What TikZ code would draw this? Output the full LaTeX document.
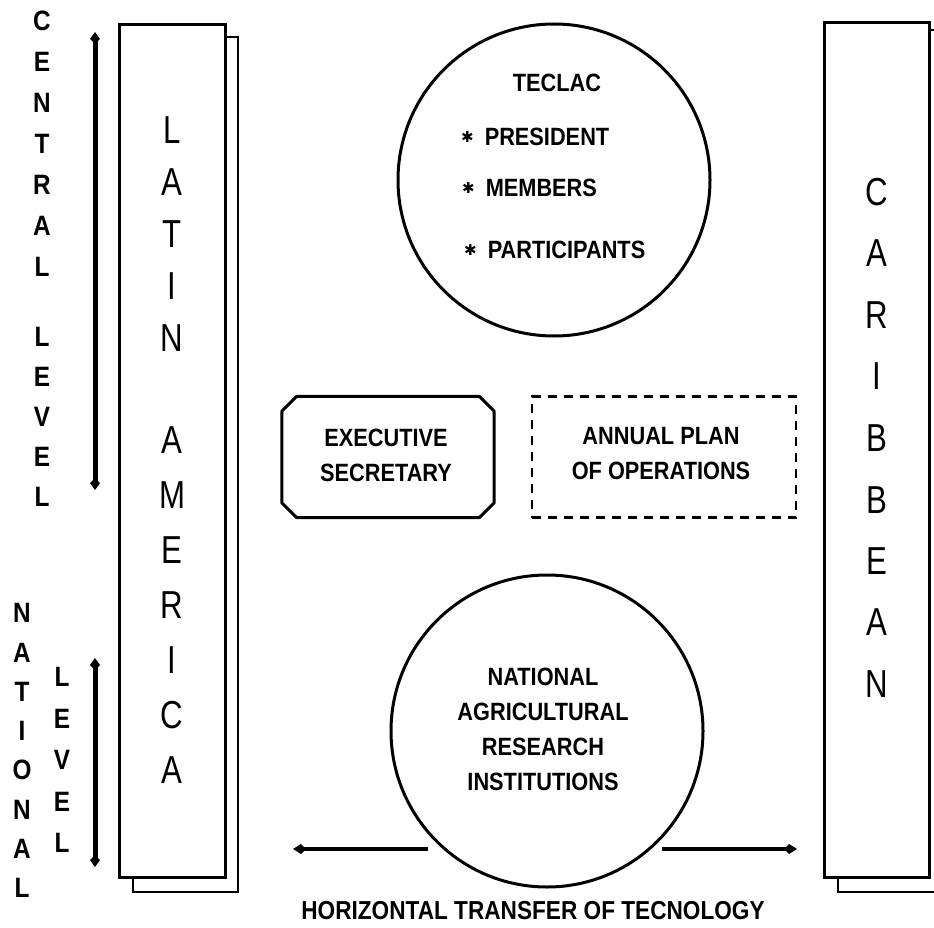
\documentclass[tikz,border=0pt]{standalone}
\usepackage{fontspec}
\setmainfont{Liberation Sans}
\newfontfamily\boxfont[FakeStretch=0.87]{Liberation Sans}
\newfontfamily\bigletterfont[FakeStretch=0.8]{Liberation Sans}
\newfontfamily\starfont{DejaVu Sans}
\usetikzlibrary{arrows.meta}

\tikzset{
  frontbox/.style={draw, line width=3pt, fill=white, inner sep=0pt},
  backbox/.style={draw, line width=2.5pt},
  vletter/.style={font=\boxfont\bfseries\fontsize{28}{30}\selectfont, inner sep=0pt},
  bigletter/.style={font=\bigletterfont\fontsize{39}{40}\selectfont, inner sep=0pt},
  boxtext/.style={font=\boxfont\bfseries\fontsize{25}{35}\selectfont, align=center, inner sep=0pt},
  bubble/.style={circle, draw, line width=3pt, minimum size=312pt, inner sep=0pt},
  chamfer/.style={line width=3pt, line join=round},
  levelarrow/.style={line width=5pt, {Kite[length=12pt,width=10pt,inset=5pt]}-{Kite[length=12pt,width=10pt,inset=5pt]}},
  transfer/.style={line width=4pt, -{Kite[length=13pt,width=10pt,inset=5pt]}}
}
\newcommand{\bul}{\raisebox{3pt}{\starfont\fontsize{15}{15}\selectfont ✱}\hspace{11pt}}

\begin{document}
\begin{tikzpicture}[x=1pt, y=-1pt]
\useasboundingbox (0,0) rectangle (934,928);

\draw[backbox] (133,37) rectangle (238,892);
\node[frontbox, minimum width=106pt, minimum height=852pt] (latin) at (172,451){};
\draw[backbox] (934,30) -| (838,892) -- (934,892);
\node[frontbox, minimum width=105pt, minimum height=854pt] (carib) at (876.5,450){};

\foreach \ch/\yy [count=\i] in {L/130, A/182, T/234, I/286, N/338, A/440, M/495, E/550, R/605, I/660, C/715, A/770}
  \node[bigletter] (latin\i) at (172,\yy){\ch};
\foreach \ch/\yy [count=\i] in {C/192, A/253, R/315, I/376, B/438, B/500, E/561, A/622, N/684}
  \node[bigletter] (carib\i) at (877,\yy){\ch};

\foreach \ch/\yy [count=\i] in {C/21, E/62, N/103, T/144, R/185, A/226, L/267, L/337, E/377, V/417, E/457, L/497}
  \node[vletter] (central\i) at (42,\yy){\ch};
\foreach \ch/\yy [count=\i] in {N/613, A/653, T/692, I/731, O/770, N/810, A/849, L/888}
  \node[vletter] (national\i) at (22,\yy){\ch};
\foreach \ch/\yy [count=\i] in {L/677, E/719, V/760, E/802, L/843}
  \node[vletter] (level\i) at (62,\yy){\ch};

\coordinate (ctop) at (95,32);
\coordinate (cbot) at (95,490);
\draw[levelarrow] (ctop) -- (cbot);
\coordinate (ntop) at (95,658);
\coordinate (nbot) at (95,867);
\draw[levelarrow] (ntop) -- (nbot);

\node[bubble] (teclac) at (554,180){};
\node[boxtext] (teclactitle) at (557,83){TECLAC};
\node[boxtext, anchor=west] (president) at (461,137){\bul PRESIDENT};
\node[boxtext, anchor=west] (members) at (462,188){\bul MEMBERS};
\node[boxtext, anchor=west] (participants) at (464,250){\bul PARTICIPANTS};

\node[minimum width=212pt, minimum height=121pt, inner sep=0pt] (execbox) at (388,457){};
\draw[chamfer] ([xshift=15pt]execbox.north west) -- ([xshift=-15pt]execbox.north east)
  -- ([yshift=-15pt]execbox.north east) -- ([yshift=15pt]execbox.south east)
  -- ([xshift=-15pt]execbox.south east) -- ([xshift=15pt]execbox.south west)
  -- ([yshift=15pt]execbox.south west) -- ([yshift=-15pt]execbox.north west) -- cycle;
\node[boxtext] (exec) at (386,455){EXECUTIVE\\SECRETARY};
\node[draw, dash pattern=on 9pt off 7pt, line width=2.5pt, minimum width=264pt, minimum height=121pt] (plan) at (664,457){};
\node[boxtext] (plantext) at (661,454){ANNUAL PLAN\\OF OPERATIONS};

\node[bubble] (nari) at (547,731){};
\node[boxtext] (naritext) at (543,729){NATIONAL\\AGRICULTURAL\\RESEARCH\\INSTITUTIONS};

\coordinate (leftstart) at (428,849);
\coordinate (leftend) at (293,849);
\coordinate (rightstart) at (662,849);
\coordinate (rightend) at (797,849);
\draw[transfer] (leftstart) -- (leftend);
\draw[transfer] (rightstart) -- (rightend);
\node[boxtext, font=\boxfont\bfseries\fontsize{26}{30}\selectfont] (transfer) at (533,911){HORIZONTAL TRANSFER OF TECNOLOGY};

\end{tikzpicture}
\end{document}
